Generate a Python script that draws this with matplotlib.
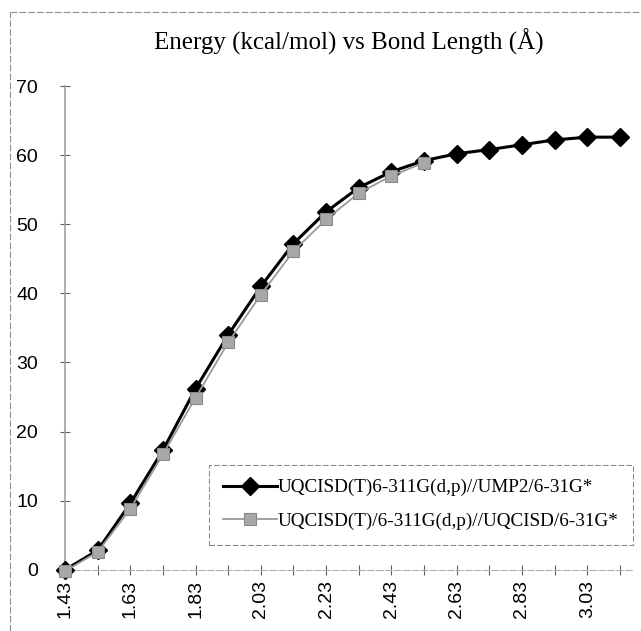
import matplotlib
matplotlib.use("Agg")
import matplotlib.pyplot as plt
from matplotlib.lines import Line2D

# Data
bond_lengths = ["1.43", "1.53", "1.63", "1.73", "1.83", "1.93", "2.03", "2.13", "2.23",
                "2.33", "2.43", "2.53", "2.63", "2.73", "2.83", "2.93", "3.03", "3.13"]
energy_ump2 = [0, 2.8, 9.6, 17.3, 26.2, 34.0, 41.0, 47.2, 51.8,
               55.3, 57.6, 59.2, 60.2, 60.8, 61.5, 62.2, 62.6, 62.6]
energy_uqcisd = [-0.2, 2.6, 8.8, 16.7, 24.9, 32.9, 39.8, 46.1, 50.7,
                 54.5, 57.0, 58.9]
label_ump2 = "UQCISD(T)6-311G(d,p)//UMP2/6-31G*"
label_uqcisd = "UQCISD(T)/6-311G(d,p)//UQCISD/6-31G*"
title = "Energy (kcal/mol) vs Bond Length (Å)"
y_ticks = [0, 10, 20, 30, 40, 50, 60, 70]

serif = ["Liberation Serif", "DejaVu Serif"]
sans = ["Liberation Sans", "DejaVu Sans"]

fig = plt.figure(figsize=(6.41, 6.31), dpi=100)
ax = fig.add_axes([0.1014, 0.097, 0.886, 0.7667])

xs_all = list(range(len(bond_lengths)))
xs_u = list(range(len(energy_uqcisd)))

ax.plot(xs_all, energy_ump2, color="black", lw=2.2, marker="D", ms=9,
        mfc="black", mec="black", clip_on=False, zorder=3, label=label_ump2)
ax.plot(xs_u, energy_uqcisd, color="#9a9a9a", lw=1.3, marker="s", ms=8,
        mfc="#a8a8a8", mec="#8a8a8a", mew=0.8, clip_on=False, zorder=4, label=label_uqcisd)

ax.set_xlim(0, 17.4)
ax.set_ylim(0, 70)
ax.set_yticks(y_ticks)
ax.set_yticklabels([str(v) for v in y_ticks], fontfamily=sans, fontsize=14)
ax.set_xticks(xs_all)
ax.set_xticklabels([lab if i % 2 == 0 else "" for i, lab in enumerate(bond_lengths)],
                   rotation=90, fontfamily=sans, fontsize=14)

for s in ["top", "right"]:
    ax.spines[s].set_visible(False)
ax.spines["left"].set_color("#a0a0a0")
ax.spines["left"].set_linewidth(1.2)
ax.spines["bottom"].set_color("#b0b0b0")
ax.spines["bottom"].set_linewidth(0.8)
ax.spines["bottom"].set_linestyle((0, (6, 2)))
ax.tick_params(axis="both", direction="inout", length=7, width=0.8, color="#606060")
ax.tick_params(axis="y", pad=16)
ax.tick_params(axis="x", pad=4)

ax.set_title(title, fontfamily=serif, fontsize=18, pad=26)

leg = ax.legend(loc="lower right", bbox_to_anchor=(1.0, 0.052), prop={"family": serif, "size": 13.8},
                frameon=True, fancybox=False, handlelength=2.8, handletextpad=0.05,
                borderpad=0.75, labelspacing=0.85, borderaxespad=0)
leg.get_frame().set_edgecolor("#707070")
leg.get_frame().set_linewidth(0.8)
leg.get_frame().set_linestyle((0, (5, 2)))

# chart-area border (left and top)
fig.add_artist(Line2D([0.016, 0.016], [0.0, 0.981], transform=fig.transFigure,
                      color="#909090", lw=0.8, ls=(0, (6, 2))))
fig.add_artist(Line2D([0.016, 1.0], [0.981, 0.981], transform=fig.transFigure,
                      color="#909090", lw=0.8, ls=(0, (6, 2))))

fig.savefig("out.png", dpi=100)
